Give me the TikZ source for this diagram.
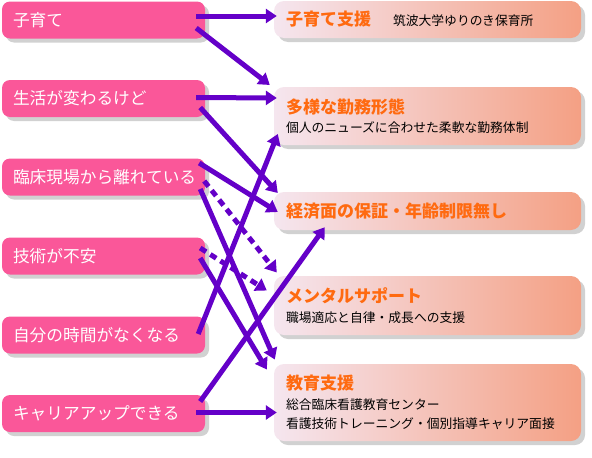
\documentclass[tikz,border=0pt]{standalone}
\usepackage{fontspec}
\setmainfont{Noto Sans CJK JP}
\usepackage{xcolor}
\usetikzlibrary{
    arrows.meta,
    calc,
    shadows
}

\definecolor{causepink}{HTML}{FA5799}
\definecolor{arrowpurple}{HTML}{6400C8}
\definecolor{titleorange}{HTML}{FF6A10}
\definecolor{gradleft}{HTML}{F5E6EF}
\definecolor{gradright}{HTML}{F4A084}

\begin{document}
\begin{tikzpicture}[
    x=1pt, y=-1pt,
    causebox/.style={
        rectangle,
        rounded corners=8pt,
        fill=causepink,
        text=white,
        font=\fontsize{16.7}{19}\selectfont,
        align=left,
        text width=181pt,
        inner xsep=11pt,
        inner ysep=0pt,
        minimum height=37pt,
        drop shadow={shadow xshift=4pt, shadow yshift=-4pt, opacity=0.3, fill=black!60}
    },
    supportbox/.style={
        rectangle,
        rounded corners=10pt,
        left color=gradleft,
        right color=gradright,
        align=left,
        text width=283pt,
        inner xsep=12pt,
        inner ysep=0pt,
        font=\fontsize{12.8}{19.5}\selectfont,
        drop shadow={shadow xshift=4pt, shadow yshift=-4pt, opacity=0.3, fill=black!60}
    },
    arrow/.style={
        -{Triangle[length=11pt,width=14pt]},
        line width=5pt,
        draw=arrowpurple
    },
    dasharrow/.style={
        arrow,
        dash pattern=on 7pt off 5pt
    }
]
\newcommand{\headline}[1]{{\fontsize{17}{19.5}\selectfont\bfseries\color{titleorange}#1}}

\useasboundingbox (0,0) rectangle (592,458);

% =========================================================
% Reasons (left column)
% =========================================================
\node[causebox] (kosodate) at (103.5,20) {子育て};
\node[causebox] (seikatsu) at (103.5,98.5) {生活が変わるけど};
\node[causebox] (rinsho) at (103.5,177) {臨床現場から離れている};
\node[causebox] (gijutsu) at (103.5,256) {技術が不安};
\node[causebox] (jikan) at (103.5,335) {自分の時間がなくなる};
\node[causebox] (career) at (103.5,413.5) {キャリアアップできる};

% =========================================================
% Support (right column)
% =========================================================
\node[supportbox, minimum height=37pt] (shien) at (427.5,19.5)
{\headline{子育て支援}\hspace{22pt}筑波大学ゆりのき保育所};

\node[supportbox, minimum height=58pt] (kinmu) at (427.5,116)
{\headline{多様な勤務形態}\\個人のニューズに合わせた柔軟な勤務体制};

\node[supportbox, minimum height=38pt] (keizai) at (427.5,211)
{\headline{経済面の保証・年齢制限無し}};

\node[supportbox, minimum height=59pt] (mental) at (427.5,305.5)
{\headline{メンタルサポート}\\職場適応と自律・成長への支援};

\node[supportbox, minimum height=77pt] (kyoiku) at (427.5,402.5)
{\headline{教育支援}\\総合臨床看護教育センター\\看護技術トレーニング・個別指導キャリア面接};

% =========================================================
% Arrows
% =========================================================
\draw[arrow] ($(kosodate.east)+(-9,-4)$) -- ($(shien.west)+(3,-3.5)$);
\draw[arrow] ($(kosodate.east)+(-9,8)$) -- ($(kinmu.west)+(-4,-31)$);
\draw[arrow] ($(seikatsu.east)+(-9,-1)$) -- ($(kinmu.west)+(3,-18)$);
\draw[arrow] ($(seikatsu.east)+(-5,9)$) -- ($(keizai.west)+(4,-18)$);
\draw[arrow] ($(rinsho.east)+(-6,-14)$) -- ($(keizai.west)+(4,1)$);
\draw[dasharrow] ($(rinsho.east)+(-1,4)$) -- ($(mental.west)+(3,-33)$);
\draw[arrow] ($(rinsho.east)+(-5,12)$) -- ($(kyoiku.west)+(1,-43)$);
\draw[dasharrow] ($(gijutsu.east)+(-5,-8)$) -- ($(mental.west)+(-7,-15)$);
\draw[arrow] ($(gijutsu.east)+(-5,2)$) -- ($(kyoiku.west)+(-7,-33)$);
\draw[arrow] ($(jikan.east)+(-7,-1)$) -- ($(kinmu.west)+(4,18)$);
\draw[arrow] ($(career.east)+(-5,-12)$) -- ($(keizai.south west)+(51,-3)$);
\draw[arrow] ($(career.east)+(-9,-1)$) -- ($(kyoiku.west)+(3,10)$);

\end{tikzpicture}
\end{document}
